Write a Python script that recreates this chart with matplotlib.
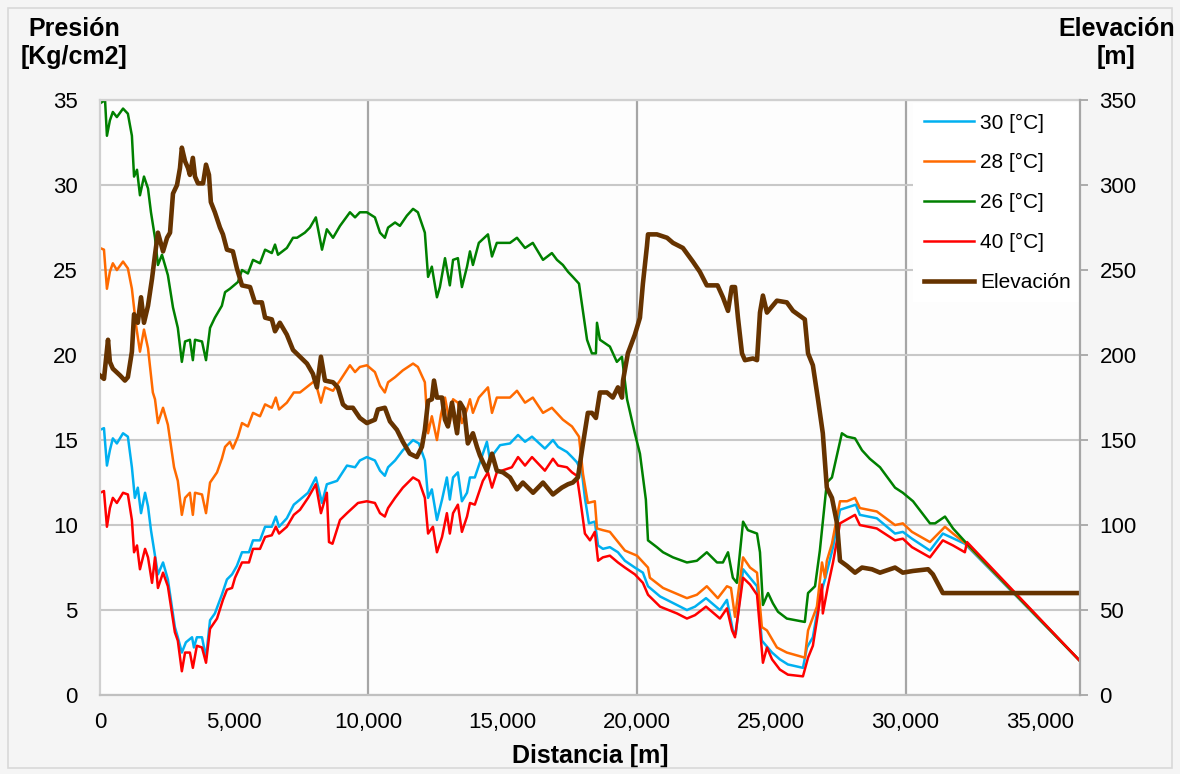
import matplotlib
matplotlib.use("Agg")
import matplotlib.pyplot as plt
from matplotlib.patches import Rectangle
from matplotlib.ticker import FuncFormatter, MultipleLocator

plt.rcParams["font.family"] = ["Liberation Sans", "DejaVu Sans"]

# --- data (distance m, pressure kg/cm2, elevation m) ---
dist_26 = [0, 190, 260, 370, 480, 630, 860, 1040, 1190, 1270, 1380, 1490, 1640, 1790, 1900, 2050,
           2160, 2310, 2530, 2720, 2900, 3050, 3170, 3350, 3460, 3540, 3800, 3950, 4100, 4280, 4540,
           4660, 4840, 5140, 5290, 5510, 5700, 5960, 6150, 6400, 6520, 6630, 6960, 7190, 7340, 7630,
           7820, 8040, 8270, 8450, 8680, 8940, 9310, 9500, 9680, 9940, 10240, 10430, 10610, 10730,
           10990, 11170, 11430, 11660, 11840, 12100, 12220, 12360, 12550, 12660, 12850, 13030, 13150,
           13330, 13480, 13670, 13780, 13890, 14110, 14450, 14600, 14780, 15010, 15270, 15530, 15830,
           16120, 16500, 16830, 17020, 17240, 17430, 17610, 17840, 18140, 18320, 18470, 18510, 18620,
           18990, 19250, 19440, 19630, 19920, 20110, 20330, 20410, 20740, 20970, 21340, 21860, 22230,
           22600, 22980, 23200, 23390, 23570, 23720, 23950, 24130, 24470, 24580, 24690, 24880, 25060,
           25250, 25580, 26250, 26370, 26630, 26810, 27070, 27260, 27630, 27820, 28120, 28380, 28670,
           29050, 29610, 29900, 30280, 30910, 31100, 31470, 31770, 32290, 36500]
pres_26 = [34.8, 35.0, 32.9, 33.8, 34.3, 34.0, 34.5, 34.2, 32.9, 30.5, 30.9, 29.4, 30.5, 29.8, 28.4, 26.9,
           25.3, 25.9, 24.7, 22.8, 21.6, 19.6, 20.8, 20.9, 19.7, 20.9, 20.8, 19.7, 21.6, 22.2, 22.9,
           23.7, 23.9, 24.3, 25.0, 24.8, 25.6, 25.4, 26.2, 26.0, 26.5, 25.9, 26.3, 26.9, 26.9, 27.2,
           27.5, 28.1, 26.2, 27.4, 26.9, 27.6, 28.4, 28.1, 28.4, 28.4, 28.1, 27.2, 26.9, 27.5,
           27.8, 27.6, 28.2, 28.6, 28.4, 27.2, 24.6, 25.2, 23.4, 24.0, 25.7, 24.1, 25.6,
           25.7, 24.0, 25.2, 26.1, 25.3, 26.6, 27.1, 25.8, 26.6, 26.6, 26.6, 26.9, 26.3,
           26.6, 25.6, 26.0, 25.6, 25.3, 24.9, 24.6, 24.2, 20.9, 20.1, 20.1, 21.9, 20.9,
           20.5, 19.6, 19.9, 17.4, 15.4, 14.2, 11.5, 9.1, 8.7, 8.4, 8.1, 7.8, 7.9,
           8.4, 7.8, 7.8, 8.4, 6.9, 6.6, 10.2, 9.7, 9.5, 8.4, 5.3, 6.0, 5.4,
           4.9, 4.5, 4.3, 6.0, 6.4, 8.5, 12.5, 12.8, 15.4, 15.2, 15.1, 14.4, 13.9,
           13.4, 12.2, 11.9, 11.4, 10.1, 10.1, 10.5, 9.8, 8.9, 2.0]

dist_28 = [0, 150, 260, 370, 480, 630, 860, 1040, 1190, 1340, 1490, 1640, 1790, 1970, 2050, 2160,
           2350, 2530, 2760, 2900, 3050, 3170, 3350, 3460, 3540, 3800, 3950, 4100, 4360, 4540, 4660,
           4840, 4950, 5140, 5290, 5510, 5700, 5960, 6150, 6400, 6550, 6670, 6960, 7220, 7450, 7930,
           8010, 8230, 8380, 8680, 8940, 9310, 9500, 9680, 9940, 10240, 10430, 10610, 10730, 10990,
           11280, 11660, 11840, 12100, 12220, 12360, 12550, 12700, 12850, 13030, 13150, 13330, 13480,
           13670, 13780, 13890, 14110, 14450, 14600, 14780, 15270, 15530, 15830, 16120, 16500, 16830,
           17240, 17580, 17840, 17990, 18170, 18430, 18510, 18730, 18990, 19550, 20000, 20410, 20480,
           20970, 21860, 22230, 22600, 23010, 23350, 23500, 23650, 23950, 24210, 24470, 24650, 24840,
           25210, 25580, 26250, 26370, 26700, 26890, 27000, 27070, 27260, 27560, 27820, 28120, 28300,
           28930, 29610, 29900, 30240, 30910, 31470, 31770, 32250, 36500]
pres_28 = [26.3, 26.2, 23.9, 24.9, 25.4, 25.0, 25.5, 25.1, 23.9, 21.8, 20.2, 21.5, 20.4, 17.8, 17.4, 16.0,
           16.9, 15.9, 13.4, 12.6, 10.6, 11.6, 11.9, 10.6, 11.9, 11.8, 10.7, 12.5, 13.1, 13.9, 14.6,
           14.9, 14.5, 15.2, 16.0, 15.8, 16.6, 16.4, 17.1, 16.9, 17.5, 16.8, 17.2, 17.8, 17.8, 18.4,
           18.5, 17.2, 18.1, 17.9, 18.5, 19.4, 19.0, 19.3, 19.4, 19.0, 18.2, 17.8, 18.4, 18.7,
           19.1, 19.5, 19.3, 18.4, 15.4, 16.4, 15.0, 16.5, 17.5, 16.0, 17.4, 17.2, 16.0,
           16.8, 17.4, 16.6, 17.5, 18.1, 16.6, 17.5, 17.5, 17.9, 17.2, 17.5, 16.6, 16.9,
           16.2, 15.8, 15.2, 13.0, 11.3, 11.4, 9.8, 9.7, 9.6, 8.5, 8.2, 7.5, 6.9,
           6.3, 5.7, 5.9, 6.4, 5.7, 6.4, 6.3, 4.6, 8.1, 7.5, 7.2, 4.0, 3.8,
           2.8, 2.5, 2.2, 3.8, 5.2, 7.8, 6.9, 7.9, 8.9, 11.4, 11.4, 11.6, 11.0,
           10.8, 10.0, 10.1, 9.6, 9.0, 9.9, 9.5, 8.9, 2.0]

dist_30 = [0, 150, 260, 370, 480, 630, 860, 1040, 1190, 1300, 1410, 1530, 1680, 1790, 1900, 2050,
           2160, 2350, 2530, 2790, 2900, 3050, 3200, 3430, 3500, 3610, 3800, 3950, 4100, 4280, 4540,
           4730, 4920, 5100, 5290, 5550, 5700, 5960, 6150, 6400, 6550, 6670, 6960, 7220, 7450, 7750,
           8040, 8270, 8450, 8830, 9200, 9500, 9680, 9940, 10240, 10430, 10610, 10730, 10990, 11280,
           11660, 11880, 12100, 12220, 12360, 12550, 12740, 12920, 13030, 13150, 13330, 13480, 13670,
           13780, 13960, 14260, 14410, 14520, 14900, 15270, 15570, 15830, 16090, 16570, 16870, 17060,
           17390, 17580, 17760, 17950, 18060, 18210, 18430, 18550, 18730, 18990, 19290, 19550, 19920,
           20220, 20410, 20860, 21490, 21860, 22160, 22570, 23090, 23350, 23570, 23680, 23950, 24210,
           24470, 24650, 25030, 25320, 25620, 26180, 26330, 26550, 26810, 27000, 27300, 27560, 28150,
           28300, 28930, 29610, 29900, 30240, 30910, 31390, 32210, 36500]
pres_30 = [15.6, 15.7, 13.5, 14.4, 15.1, 14.8, 15.4, 15.2, 13.4, 11.6, 12.2, 10.7, 11.9, 11.1, 9.7, 8.2,
           7.1, 7.8, 6.8, 4.0, 3.4, 2.5, 3.1, 3.4, 2.8, 3.4, 3.4, 2.2, 4.4, 4.8, 5.9,
           6.8, 7.1, 7.6, 8.4, 8.4, 9.1, 9.1, 9.9, 9.9, 10.5, 9.9, 10.4, 11.2, 11.5, 11.9,
           12.8, 11.3, 12.4, 12.6, 13.5, 13.4, 13.8, 14.0, 13.8, 13.2, 12.9, 13.4, 13.8, 14.4,
           15.0, 14.8, 13.8, 11.6, 12.1, 10.3, 11.5, 12.8, 11.5, 12.8, 13.1, 11.4, 11.9,
           12.8, 12.8, 14.2, 14.9, 13.9, 14.7, 14.8, 15.3, 14.9, 15.2, 14.5, 15.0, 14.6,
           14.3, 14.0, 13.7, 13.1, 11.6, 10.1, 10.2, 8.8, 8.6, 8.7, 8.4, 7.9, 7.5,
           7.2, 6.4, 5.8, 5.3, 5.0, 5.2, 5.7, 5.0, 5.6, 3.8, 3.6, 7.4, 6.9,
           6.4, 3.2, 2.5, 2.1, 1.8, 1.6, 2.8, 3.4, 5.8, 6.8, 8.7, 10.9, 11.2,
           10.6, 10.4, 9.5, 9.6, 9.2, 8.5, 9.5, 8.9, 2.0]

dist_40 = [0, 150, 260, 370, 480, 630, 860, 1040, 1190, 1270, 1380, 1490, 1680, 1790, 1940, 2050,
           2160, 2350, 2530, 2790, 2900, 3050, 3170, 3350, 3460, 3610, 3800, 3950, 4100, 4360, 4580,
           4730, 4920, 5030, 5290, 5550, 5700, 5960, 6150, 6400, 6550, 6670, 6960, 7220, 7450, 7750,
           8040, 8230, 8450, 8530, 8660, 8940, 9200, 9610, 9940, 10240, 10430, 10610, 10730, 10990,
           11280, 11660, 11880, 12100, 12220, 12400, 12550, 12740, 12920, 13030, 13150, 13330, 13480,
           13670, 13780, 13960, 14260, 14450, 14600, 14780, 15340, 15570, 15830, 16090, 16570, 16870,
           17060, 17390, 17580, 17760, 17880, 18060, 18250, 18430, 18550, 18730, 18990, 19290, 19550,
           19920, 20220, 20410, 20860, 21490, 21860, 22160, 22570, 23090, 23350, 23540, 23650, 23950,
           24210, 24470, 24650, 24690, 24840, 25030, 25320, 25620, 26180, 26370, 26550, 26740, 26890,
           26920, 27110, 27300, 27560, 28120, 28300, 28930, 29610, 29900, 30240, 30910, 31390, 31770,
           32210, 32290, 36500]
pres_40 = [11.9, 12.0, 9.9, 11.0, 11.6, 11.3, 11.9, 11.8, 10.3, 8.4, 8.8, 7.4, 8.6, 8.1, 6.6, 8.1,
           6.3, 7.2, 6.4, 3.7, 3.2, 1.4, 2.5, 2.5, 1.6, 2.9, 2.8, 1.9, 3.9, 4.5, 5.6,
           6.2, 6.3, 6.9, 7.8, 7.8, 8.6, 8.6, 9.3, 9.4, 9.9, 9.5, 9.9, 10.6, 10.9, 11.6,
           12.4, 10.7, 11.9, 9.0, 8.9, 10.3, 10.7, 11.3, 11.4, 11.3, 10.7, 10.5, 11.0, 11.6,
           12.2, 12.8, 12.6, 11.6, 9.5, 9.9, 8.4, 9.3, 10.7, 9.5, 10.7, 11.2, 9.6,
           10.5, 11.3, 11.2, 12.6, 13.1, 12.2, 13.1, 13.4, 14.0, 13.5, 14.0, 13.2, 13.9,
           13.5, 13.4, 13.1, 12.9, 11.6, 9.5, 9.1, 9.6, 7.9, 8.1, 8.2, 7.8, 7.5,
           7.1, 6.6, 5.9, 5.2, 4.8, 4.5, 4.7, 5.2, 4.5, 5.1, 3.8, 3.4, 6.9,
           6.5, 5.9, 2.6, 1.9, 2.8, 2.1, 1.5, 1.2, 1.1, 2.2, 2.9, 4.8, 6.5,
           4.8, 6.4, 7.8, 10.1, 10.6, 10.0, 9.8, 9.1, 9.2, 8.7, 8.1, 9.1, 8.8,
           8.4, 9.0, 2.0]

dist_elev = [0, 150, 300, 370, 480, 750, 930, 1040, 1190, 1270, 1410, 1530, 1640, 1790, 1940, 2050,
             2160, 2350, 2500, 2610, 2720, 2870, 2980, 3050, 3170, 3280, 3350, 3460, 3540, 3650, 3840,
             3950, 4060, 4130, 4280, 4470, 4580, 4730, 4950, 5100, 5290, 5590, 5770, 6030, 6150, 6400,
             6520, 6700, 6960, 7190, 7450, 7710, 7930, 8080, 8230, 8380, 8680, 8860, 9050, 9200, 9420,
             9680, 9940, 10240, 10350, 10610, 10800, 11060, 11280, 11540, 11800, 11990, 12100, 12220,
             12360, 12440, 12550, 12740, 12850, 12960, 13110, 13300, 13410, 13560, 13700, 13890, 14040,
             14150, 14410, 14600, 14780, 15010, 15270, 15530, 15750, 16130, 16500, 16870, 17200, 17430,
             17610, 17800, 17990, 18170, 18320, 18470, 18620, 18880, 19100, 19290, 19440, 19480, 19660,
             19920, 20110, 20220, 20370, 20410, 20740, 21120, 21340, 21710, 22080, 22340, 22600, 23000,
             23200, 23390, 23530, 23650, 23760, 23910, 24020, 24320, 24470, 24580, 24690, 24840, 25210,
             25580, 25810, 26250, 26370, 26550, 26740, 26920, 27070, 27260, 27450, 27560, 27820, 28120,
             28380, 28750, 29050, 29610, 29900, 30280, 30840, 31020, 31390, 32030, 36500]
elev = [188, 186, 209, 196, 192, 188, 185, 187, 202, 224, 219, 234, 219, 229, 245, 259,
        272, 261, 269, 272, 295, 300, 310, 322, 314, 310, 306, 316, 305, 301, 301,
        312, 306, 290, 284, 275, 271, 262, 261, 251, 241, 240, 231, 231, 222, 221,
        214, 219, 212, 203, 199, 195, 189, 181, 199, 185, 184, 181, 171, 169, 169,
        163, 160, 162, 168, 169, 161, 156, 149, 142, 140, 146, 156, 173,
        174, 185, 175, 175, 162, 158, 172, 154, 172, 168, 148, 154, 146,
        141, 132, 142, 132, 131, 128, 121, 125, 119, 125, 118, 122, 124,
        125, 128, 148, 166, 166, 163, 178, 178, 175, 181, 175, 185, 201,
        212, 222, 242, 264, 271, 271, 269, 266, 263, 255, 249, 241, 241,
        234, 226, 240, 240, 222, 201, 197, 198, 197, 225, 235, 225, 232,
        231, 226, 221, 201, 194, 174, 154, 122, 116, 101, 79, 76, 72,
        75, 74, 72, 75, 72, 73, 74, 71, 60, 60, 60]

x_ticks = [0, 5000, 10000, 15000, 20000, 25000, 30000, 35000]
v_grid = [10000, 20000, 30000]

fig = plt.figure(figsize=(11.8, 7.74), dpi=100, facecolor="#f5f5f5")
fig.patches.append(Rectangle((0.007, 0.008), 0.986, 0.982, transform=fig.transFigure,
                             fill=False, edgecolor="#d9d9d9", lw=1.2))
ax = fig.add_axes([0.0847, 0.102, 0.8306, 0.7687])
ax.set_facecolor("#fdfdfd")

ax.plot(dist_30, pres_30, color="#00B0F0", lw=1.8, label="30 [°C]")
ax.plot(dist_28, pres_28, color="#FF6A00", lw=1.8, label="28 [°C]")
ax.plot(dist_26, pres_26, color="#008000", lw=1.8, label="26 [°C]")
ax.plot(dist_40, pres_40, color="#FF0000", lw=1.8, label="40 [°C]")

ax2 = ax.twinx()
ax2.plot(dist_elev, elev, color="#663300", lw=3.3, label="Elevación")

ax.set_xlim(0, 36500)
ax.set_ylim(0, 35)
ax2.set_ylim(0, 350)
ax.set_xticks(x_ticks)
ax.xaxis.set_major_formatter(FuncFormatter(lambda v, p: f"{int(v):,}"))
ax.yaxis.set_major_locator(MultipleLocator(5))
ax2.yaxis.set_major_locator(MultipleLocator(50))

ax.grid(axis="y", color="#c8c8c8", lw=1.5)
for xv in v_grid:
    ax.axvline(xv, color="#a6a6a6", lw=1.6, zorder=0.5)
ax.set_axisbelow(True)

ax.tick_params(axis="x", length=0, labelsize=16, pad=12)
ax.tick_params(axis="y", length=0, labelsize=16, pad=16)
ax2.tick_params(axis="y", length=6, width=1.3, color="#a6a6a6", labelsize=16, pad=8)

for s in ("top", "left"):
    ax.spines[s].set_color("#d0d0d0")
    ax2.spines[s].set_visible(False)
ax.spines["bottom"].set_color("#c0c0c0")
ax.spines["right"].set_visible(False)
ax2.spines["bottom"].set_visible(False)
ax2.spines["right"].set_color("#a6a6a6")
ax2.spines["right"].set_linewidth(1.6)
for s in ax.spines.values():
    s.set_linewidth(1.6)

fig.text(0.063, 0.944, "Presión\n[Kg/cm2]", ha="center", va="center",
         fontsize=18, fontweight="bold", linespacing=1.2)
fig.text(0.946, 0.944, "Elevación\n[m]", ha="center", va="center",
         fontsize=18, fontweight="bold", linespacing=1.2)
ax.set_xlabel("Distancia [m]", fontsize=18, fontweight="bold", labelpad=8)

h1, l1 = ax.get_legend_handles_labels()
h2, l2 = ax2.get_legend_handles_labels()
leg = ax2.legend(h1 + h2, l1 + l2, loc="upper left", bbox_to_anchor=(0.83, 0.995),
                 fontsize=15, frameon=True, fancybox=False, framealpha=1,
                 edgecolor="none", facecolor="white", handlelength=2.4,
                 handletextpad=0.3, labelspacing=1.0, borderaxespad=0, borderpad=0.5)
leg.set_zorder(2)

fig.savefig("out.png", dpi=100, facecolor=fig.get_facecolor())
